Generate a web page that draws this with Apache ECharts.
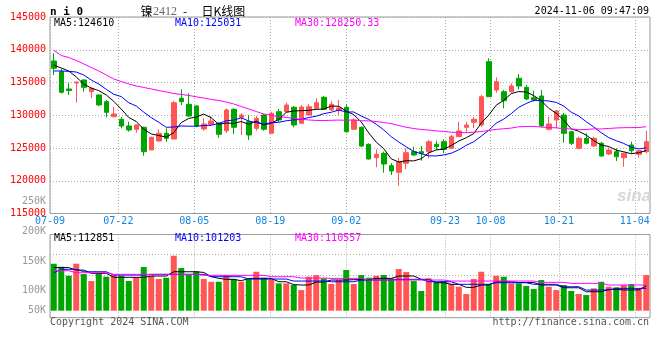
<!DOCTYPE html>
<html><head><meta charset="utf-8">
<script src="https://cdn.jsdelivr.net/npm/echarts@6/dist/echarts.min.js"></script>
<style>html,body{margin:0;padding:0;background:#fff}#c{width:660px;height:360px}</style>
</head><body><div id="c"></div>
<script>
// ---------- data ----------
const dates = ['07-09','07-10','07-11','07-12','07-15','07-16','07-17','07-18','07-19','07-22','07-23','07-24','07-25','07-26','07-29','07-30','07-31',
'08-01','08-02','08-05','08-06','08-07','08-08','08-09','08-12','08-13','08-14','08-15','08-16','08-19','08-20','08-21','08-22','08-23','08-26','08-27','08-28','08-29','08-30',
'09-02','09-03','09-04','09-05','09-06','09-09','09-10','09-11','09-12','09-13','09-18','09-19','09-20','09-23','09-24','09-25','09-26','09-27','09-30',
'10-08','10-09','10-10','10-11','10-14','10-15','10-16','10-17','10-18','10-21','10-22','10-23','10-24','10-25','10-28','10-29','10-30','10-31',
'11-01','11-04','11-05','11-06'];
const dateTicks = ['07-09','07-22','08-05','08-19','09-02','09-23','10-08','10-21','11-04'];

const openP  = [138283,136649,134008,134924,135382,133595,133092,132069,129779,129382,128359,127855,128160,124695,126069,127244,126374,132588,131672,131412,
127901,128618,128771,127641,130909,129687,129015,128008,130038,127244,130543,130543,131214,128771,130038,131061,132741,130802,130726,131214,
127855,128160,125565,123519,124191,122298,121291,122660,124435,124435,124435,125565,125962,124954,126726,128160,128924,128512,138176,133855,
133596,133596,135641,134267,132680,132939,127855,129275,130038,127489,124954,126481,125306,125718,124084,124436,123520,125458,124038,124436];
const closeP = [137168,133504,133779,135076,134267,134115,131565,130450,130191,128359,127748,128512,124435,126634,127244,126481,131916,132069,129885,128359,
128664,129122,127092,130802,128160,130038,126985,129534,127855,130298,129275,131565,128512,131260,131305,131916,130909,131672,131107,127489,
129275,125306,123321,124038,122558,121489,122909,124283,123932,124191,125962,125200,124802,126726,127596,128512,129382,132833,132833,135122,
132222,134466,134466,132481,132328,128359,128664,130649,127244,125718,126481,125718,126481,123779,124695,123673,124191,124588,124588,125962];
const lowP   = [136145,133321,133092,131916,133595,132588,131412,129687,129687,128008,127489,127336,123824,124695,125962,125947,126374,131565,129800,128160,
127641,128359,126573,127300,127137,126985,126221,127641,127641,127244,128970,130390,128160,128664,130000,130950,130802,130649,130038,127336,
127855,125150,123250,122054,121230,120878,119245,121790,123800,123061,123428,124700,124191,124900,126700,127336,128008,128257,132800,133443,
131061,133450,133962,132328,132069,128206,127700,128008,125809,125458,124800,125565,125200,123700,123932,123016,122146,124191,123520,124191];
const highP  = [139458,137061,134878,135122,135489,134267,133199,132328,131305,129733,129015,128664,128252,126726,127855,128008,132176,133962,133351,131565,
129534,129885,128970,131061,131061,130298,130038,129885,130191,130543,130955,131916,131412,131565,131748,132588,132939,132176,132328,131718,
129534,128300,125700,124802,124435,122700,123500,124954,125200,125306,126200,126100,126329,126985,129015,129015,129687,133091,138695,135794,
133855,134878,136298,134618,133748,133855,129778,130802,130344,127640,126736,127244,126736,125962,125107,124954,124300,125962,124695,127641];

const ma5 = [137670,137210,136760,135840,134760,134150,133760,133100,132120,130940,129660,129050,127850,127140,126910,126660,127340,128870,129520,129740,
130180,129620,128620,128810,128770,129040,128620,129100,128510,128800,129350,130450,130650,130700,130750,130900,130950,131400,131380,130620,
130090,128970,127300,125890,124900,123340,122860,123060,123030,123360,124260,124710,124820,125380,126060,126570,127200,128810,130030,131540,
132280,133300,133620,133550,132990,132220,131060,130300,129250,127930,127550,126960,126130,125440,125230,124670,124420,124120,124280,124610];
const ma10 = [136760,136760,136700,136600,136150,135380,134770,133960,133200,132850,131910,131410,130470,129630,128930,128160,128200,128360,128330,128330,
128420,128480,128750,129160,129260,129610,129120,128860,128660,128860,128920,129160,129300,129350,129660,129850,130240,130460,130780,130500,
130500,129880,129360,128630,127760,126720,125920,125180,124460,124130,123800,123790,123940,124210,124710,125410,125960,126810,127700,128800,
129420,130250,131220,131790,132270,132250,132180,131960,131400,130460,129890,129010,128210,127340,126580,126110,125690,125120,124860,125030];
const ma30 = [139910,139120,138820,138360,137830,137290,136760,136150,135540,135150,134770,134470,134240,134010,133780,133550,133320,133170,133020,132820,
132630,132410,132250,132020,131720,131340,130960,130570,130190,130010,129750,129680,129510,129380,129280,129210,129190,129230,129260,129230,
129280,129170,129140,129050,128890,128730,128430,128170,127970,127830,127740,127610,127530,127400,127380,127330,127410,127520,127680,127840,
127940,128040,128240,128280,128310,128190,128120,128080,127960,127900,127800,127820,127920,127910,127980,128060,128100,128110,128130,128250];

const volume = [145700,140600,125400,145700,128300,116500,129500,123800,126600,125400,116500,122700,140100,125400,119900,122100,159200,138400,126600,132800,
119900,115300,115300,126600,119900,115300,121000,132200,122100,119400,112600,112600,109800,101300,123800,126600,121000,111500,118200,135100,
111500,126600,122100,125400,126600,121000,136700,131700,116500,99700,121000,114300,116500,111500,106900,94600,119900,132200,111500,125400,
123800,112600,112600,108100,103000,118200,106900,101300,109800,99700,94600,92900,104200,115300,106900,105900,109800,111500,104200,126600];
const volMa5 = [139200,139200,139200,135000,135000,129500,129500,129500,122800,122800,122800,122700,122700,125000,125000,125000,132200,132200,132200,132200,
131000,124000,121000,119400,119400,117000,121000,121000,121000,121000,115300,115300,110500,109800,109800,114800,114800,118200,118200,118200,
118800,118800,118800,121000,121000,121000,125000,125000,125000,119400,119400,113700,113700,111000,111000,105900,105900,109800,109800,115300,
115300,115300,114000,114000,114000,109800,109800,109800,105200,105200,105200,98500,98500,98500,102500,102500,101500,101500,101500,108600];
const volMa10 = [130500,136200,136200,136200,132200,132200,132200,132200,126600,126600,126600,126600,126600,127800,127800,127800,127800,127800,127800,127800,
127800,123800,123800,123800,123800,123800,119900,119900,119900,119900,119900,119900,116500,116500,116500,116500,116500,115300,115300,115300,
115300,118200,118200,118200,118200,118200,119400,119400,119400,119400,115300,115300,115300,115300,111000,111000,111000,111000,111000,113700,
113700,113700,113700,113700,111000,111000,111000,111000,106900,106900,106900,101300,101300,101300,101300,104200,104200,104200,104200,104200];
const volMa30 = [133900,133900,133900,130500,130500,130500,130500,130500,127800,127800,127800,127800,127800,127800,127800,127800,127800,127800,127800,127800,
126100,126100,126100,126100,126100,126100,126100,126100,126100,123800,123800,123800,123800,121600,121600,121600,121600,121000,121000,121000,
121000,121000,118200,118200,118200,118200,118200,118200,118200,118200,118200,118200,118200,116500,116500,116500,116500,116500,116500,116500,
116500,116500,116500,116500,116500,114300,114300,114300,114300,112600,112600,112600,112600,112600,109800,109800,109800,109800,109800,109800];

const volTickValues = [250000,200000,150000,100000,50000];
const volTickLabels = ['250K','200K','150K','100K','50K'];

const legendMain = ['MA5:124610','MA10:125031','MA30:128250.33'];
const legendVol  = ['MA5:112851','MA10:101203','MA30:110557'];
const symbolText = 'n i 0';
const titleName = '镍', titleCode = '2412', titleDash = '-', titleRest = '日K线图';
const stampText = '2024-11-06 09:47:09';
const copyText = 'Copyright 2024 SINA.COM';
const urlText = 'http://finance.sina.com.cn';

// ---------- styles ----------
const RED = '#ff5555', GREEN = '#00a600';
const MONO = 'DejaVu Sans Mono';
const GRIDC = '#aaaaaa';
const tickSet = new Set(dateTicks);
const isTick = (idx, val) => tickSet.has(val);
const dotted = {color: GRIDC, width: 1, type: [1, 2]};

const chart = echarts.init(document.getElementById('c'), null, {renderer: 'canvas', width: 660, height: 360});

const candleData = dates.map((d, i) => [openP[i], closeP[i], lowP[i], highP[i]]);
const volData = volume.map((v, i) => ({
  value: v,
  itemStyle: {color: closeP[i] >= openP[i] ? RED : GREEN}
}));

const line = (name, data, color, xi, yi) => ({
  name, type: 'line', data, xAxisIndex: xi, yAxisIndex: yi, symbol: 'none', silent: true,
  lineStyle: {color, width: 1}, itemStyle: {color}, z: 5
});

chart.setOption({
  animation: false,
  backgroundColor: '#fff',
  textStyle: {fontFamily: MONO},
  grid: [
    {left: 50, right: 10, top: 17, height: 196.5, show: true, borderColor: '#999', borderWidth: 1, backgroundColor: 'transparent'},
    {left: 50, right: 10, top: 234.5, height: 76.2, show: false},
    {left: 50, right: 10, top: 234.5, height: 83.2, show: true, borderColor: '#999', borderWidth: 1, backgroundColor: 'transparent'},
    {left: 50, right: 10, top: 234.5, height: 60.5, show: false}
  ],
  xAxis: [
    {type: 'category', gridIndex: 0, data: dates, boundaryGap: true,
     axisLine: {show: false}, axisTick: {show: false}, axisLabel: {show: false}, splitLine: {show: false}},
    {type: 'category', gridIndex: 0, data: dates, boundaryGap: false, position: 'bottom',
     axisLine: {show: false}, axisTick: {show: false},
     axisLabel: {show: true, interval: isTick, color: '#1584dc', fontFamily: MONO, fontSize: 10, margin: 3},
     splitLine: {show: true, interval: isTick, lineStyle: dotted}},
    {type: 'category', gridIndex: 1, data: dates, boundaryGap: true, show: false},
    {type: 'category', gridIndex: 2, data: dates, boundaryGap: false,
     axisLine: {show: false}, axisTick: {show: false}, axisLabel: {show: false},
     splitLine: {show: true, interval: isTick, lineStyle: dotted}},
    {type: 'category', gridIndex: 3, data: dates, boundaryGap: false, show: false}
  ],
  yAxis: [
    {type: 'value', gridIndex: 0, min: 115000, max: 145000, interval: 5000, scale: true,
     axisLine: {show: false}, axisTick: {show: false},
     axisLabel: {color: '#ff0000', fontFamily: MONO, fontSize: 10, margin: 4, formatter: v => String(v)},
     splitLine: {show: true, lineStyle: dotted}},
    {type: 'value', gridIndex: 1, min: 66500, max: 195000, show: false, splitLine: {show: false}},
    {type: 'value', gridIndex: 2, min: 0, max: 1, show: false, splitLine: {show: false}},
    {type: 'value', gridIndex: 3, min: 0, max: 3, interval: 1,
     axisLine: {show: false}, axisTick: {show: false}, axisLabel: {show: false},
     splitLine: {show: true, lineStyle: dotted}}
  ],
  series: [
    {type: 'candlestick', name: 'K', xAxisIndex: 0, yAxisIndex: 0, data: candleData, barWidth: 5,
     itemStyle: {color: RED, color0: GREEN, borderColor: RED, borderColor0: GREEN, borderWidth: 1}, z: 3},
    line('MA5', ma5, '#000000', 0, 0),
    line('MA10', ma10, '#0000ff', 0, 0),
    line('MA30', ma30, '#ff00ff', 0, 0),
    {type: 'bar', name: 'VOL', xAxisIndex: 2, yAxisIndex: 1, data: volData, barWidth: 6, clip: true, z: 3},
    line('VMA5', volMa5, '#000000', 2, 1),
    line('VMA10', volMa10, '#0000ff', 2, 1),
    line('VMA30', volMa30, '#ff00ff', 2, 1)
  ]
});

// ---------- texts ----------
const txt = (text, x, y, fill, font, align) => ({
  type: 'text', x, y, silent: true, z: 100,
  style: {text, fill, font, align: align || 'left', textAlign: align || 'left', verticalAlign: 'middle', textVerticalAlign: 'middle'}
});
const volBottom = chart.convertToPixel({yAxisIndex: 1}, 66500);
const CJK = 'Noto Sans CJK SC';
const graphics = [
  txt(symbolText, 50, 12, '#000', 'bold 11px ' + MONO),
  txt(titleName, 140.5, 11, '#000', '12px "' + CJK + '"'),
  txt(titleCode, 153, 11.5, '#666', '12px "Liberation Serif"'),
  txt(titleDash, 183, 11, '#000', '12px "' + CJK + '"'),
  txt(titleRest, 201.5, 11, '#000', '12px "' + CJK + '"'),
  txt(stampText, 649, 11, '#000', '10px ' + MONO, 'right'),
  txt(legendMain[0], 54, 23.5, '#000', '10px ' + MONO),
  txt(legendMain[1], 175, 23.5, '#0000ff', '10px ' + MONO),
  txt(legendMain[2], 295, 23.5, '#ff00ff', '10px ' + MONO),
  txt(legendVol[0], 54, 238.5, '#000', '10px ' + MONO),
  txt(legendVol[1], 175, 238.5, '#0000ff', '10px ' + MONO),
  txt(legendVol[2], 295, 238.5, '#ff00ff', '10px ' + MONO),
  txt(copyText, 50, 322.5, '#555', '10px ' + MONO),
  txt(urlText, 649, 322.5, '#555', '10px ' + MONO, 'right'),
  txt('sina', 617, 196, '#d6d6d6', 'italic bold 17px "Liberation Sans"')
];
volTickValues.forEach((v, k) => {
  let y = chart.convertToPixel({yAxisIndex: 1}, v);
  y = Math.min(y, volBottom - 0.5);
  graphics.push(txt(volTickLabels[k], 46, y, '#999', '10px ' + MONO, 'right'));
});
chart.setOption({graphic: graphics});
</script>
</body></html>
